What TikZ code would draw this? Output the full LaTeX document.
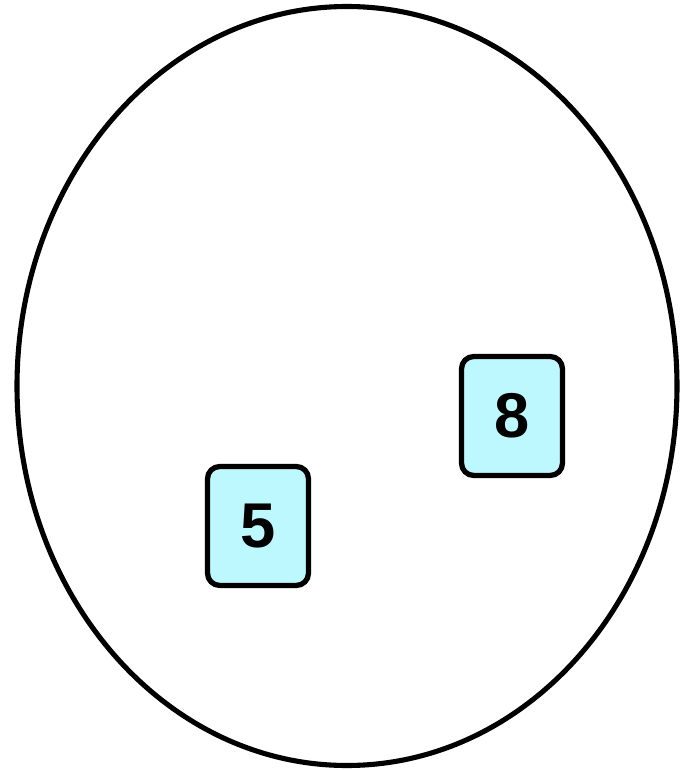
\documentclass[tikz,border=0pt]{standalone}
\usepackage{fontspec}
\setmainfont{Liberation Sans}
\usetikzlibrary{positioning,shapes.geometric}
\definecolor{cardcyan}{RGB}{190,248,255}

\begin{document}
\begin{tikzpicture}[
  card/.style={draw, line width=3pt, rounded corners=7pt, fill=cardcyan,
               minimum width=2.02cm, minimum height=2.38cm, inner sep=0pt,
               font=\fontsize{36}{36}\selectfont\bfseries},
  setline/.style={draw, line width=2.9pt}
]
\useasboundingbox (0,0) rectangle (13.68,15.4);
\node[setline, ellipse, minimum width=13.2cm, minimum height=15.18cm, inner sep=0pt] (set) at (6.94,7.68) {};
\node[card] (eight) at (10.24,7.08) {8};
\node[card] (five) at (5.16,4.88) {5};
\end{tikzpicture}
\end{document}
